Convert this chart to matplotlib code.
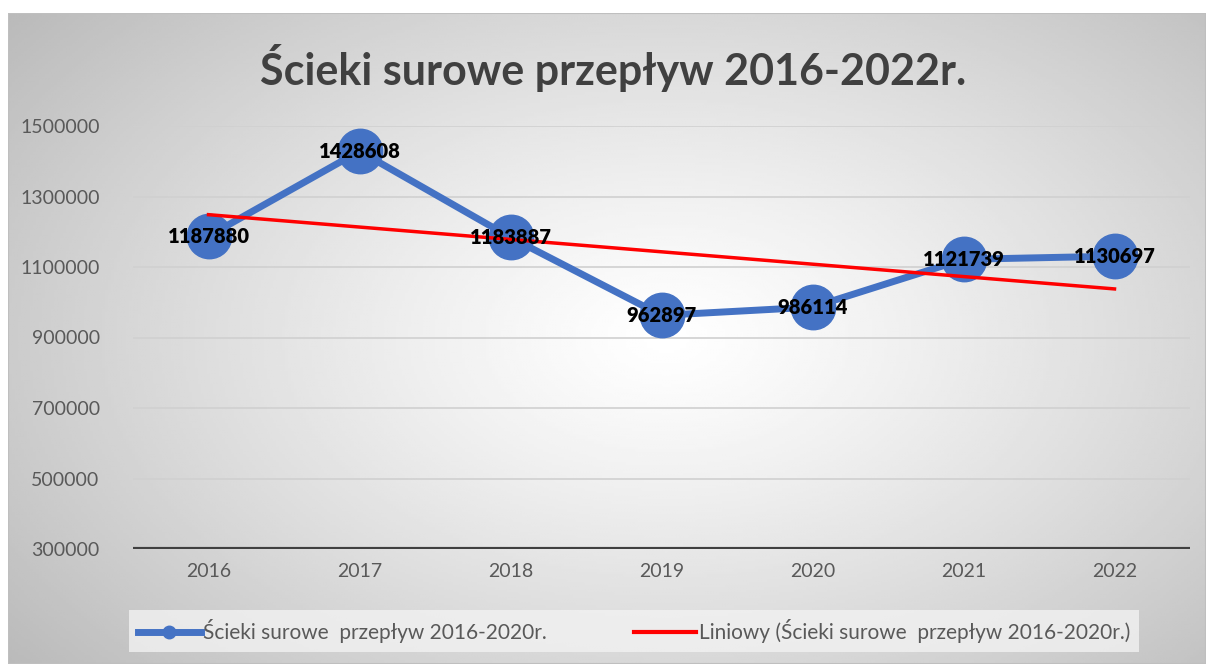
import numpy as np
import matplotlib
matplotlib.use("Agg")
import matplotlib.pyplot as plt
from matplotlib.lines import Line2D
from matplotlib.patches import Rectangle
from matplotlib.ticker import FuncFormatter

# ====== DATA ======
years = ["2016", "2017", "2018", "2019", "2020", "2021", "2022"]
flow = [1187880, 1428608, 1183887, 962897, 986114, 1121739, 1130697]
yticks = [300000, 500000, 700000, 900000, 1100000, 1300000, 1500000]

title = "Ścieki surowe przepływ 2016-2022r."
series_name = "Ścieki surowe  przepływ 2016-2020r."
trend_name = "Liniowy (Ścieki surowe  przepływ 2016-2020r.)"

blue = "#4472C4"
txt = "#595959"
plt.rcParams["font.family"] = ["Lato", "DejaVu Sans"]

W, H = 1206, 664
fig = plt.figure(figsize=(W / 100, H / 100), dpi=100)

# ====== BACKGROUND (radial gradient) ======
bg = fig.add_axes([8 / W, 0, 1 - 8 / W, 1 - 13 / H])
bg.set_axis_off()
gx, gy = np.meshgrid(np.linspace(0, 1, 400), np.linspace(0, 1, 250))
d = np.sqrt(((gx - 0.55) / 0.7) ** 2 + ((gy - 0.5) / 0.8) ** 2)
shade = 1 - 0.27 * np.clip(d, 0, 1) ** 1.2
bg.imshow(shade, cmap="gray", vmin=0, vmax=1, aspect="auto",
          extent=[0, 1, 0, 1], origin="lower")
bg.add_patch(Rectangle((0, 0), 1, 1, transform=bg.transAxes, fill=False,
                       edgecolor="#bfbfbf", lw=1.5))
bg.set_xlim(0, 1)
bg.set_ylim(0, 1)

# ====== PLOT ======
left, right = 133 / W, 1190 / W
bottom, top = 1 - 549 / H, 1 - 126 / H
ax = fig.add_axes([left, bottom, right - left, top - bottom])
ax.patch.set_alpha(0)
x = np.arange(len(years))

for v in yticks[1:]:
    ax.axhline(v, color="#d0d0d0", lw=1.2, zorder=1)
ax.axhline(yticks[0], color="#404040", lw=3, zorder=1)

ax.plot(x, flow, color=blue, lw=5, marker="o", ms=32, zorder=3)

coef = np.polyfit(x, flow, 1)
ax.plot(x, np.polyval(coef, x), color="red", lw=2.5, zorder=4)

for xi, v in zip(x, flow):
    ax.text(xi, v, str(v), ha="center", va="center", fontsize=14.5,
            fontweight="heavy", color="black", zorder=5)

ax.set_xlim(-0.5, len(years) - 0.5)
ax.set_ylim(yticks[0], yticks[-1])
ax.set_xticks(x)
ax.set_xticklabels(years)
ax.set_yticks(yticks)
ax.yaxis.set_major_formatter(FuncFormatter(lambda v, p: f"{int(v)}"))
ax.tick_params(length=0, labelsize=14, labelcolor=txt, pad=10)
ax.tick_params(axis="y", pad=24)
for s in ax.spines.values():
    s.set_visible(False)

fig.text(613 / W, 1 - 68 / H, title, ha="center", va="center",
         fontsize=31, fontweight="bold", color="#404040")

# ====== LEGEND ======
handles = [
    Line2D([0], [0], color=blue, lw=5, marker="o", ms=9),
    Line2D([0], [0], color="red", lw=3),
]
leg = fig.legend(handles, [series_name, trend_name], loc="center",
                 bbox_to_anchor=(634 / W, 1 - 631 / H), ncol=2,
                 frameon=True, fontsize=15, handlelength=3.0,
                 handletextpad=0.1, columnspacing=4.2, borderpad=0.45)
leg.get_frame().set_facecolor("#f2f2f2")
leg.get_frame().set_edgecolor("none")
leg.get_frame().set_boxstyle("square", pad=0)
for t in leg.get_texts():
    t.set_color(txt)

plt.savefig("out.png", dpi=100)
plt.close()
